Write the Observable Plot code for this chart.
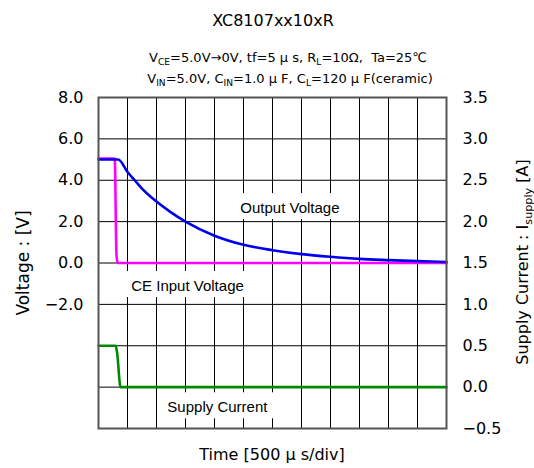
<!DOCTYPE html>
<html>
<head>
<meta charset="utf-8">
<script src="https://cdn.jsdelivr.net/npm/d3@7"></script>
<script src="https://cdn.jsdelivr.net/npm/@observablehq/plot@0.6"></script>
<style>
  html, body { margin: 0; padding: 0; background: #fff; }
</style>
</head>
<body>
<div id="chart"></div>
<script>
// ---- data (time in divisions of 500 µs) ----
const outTime = [0, 0.68, 1.0, 1.25, 1.5, 2, 2.5, 3, 4, 5, 6, 7, 8, 9, 10, 11, 12];
const outVolt = [5.0, 5.0, 4.4, 4.0, 3.6, 2.97, 2.45, 2.0, 1.32, 0.88, 0.62, 0.43, 0.30, 0.20, 0.14, 0.09, 0.05];

const ceTime = [0, 0.56, 0.62, 0.66, 12];
const ceVolt = [5.05, 5.05, 0.4, 0.0, 0.0];

const supTime = [0, 0.59, 0.64, 0.76, 12];
const supAmp = [0.5, 0.5, 0.42, 0.0, 0.0];

const leftTicks = [8, 6, 4, 2, 0, -2];
const rightTicks = [3.5, 3.0, 2.5, 2.0, 1.5, 1.0, 0.5, 0.0, -0.5];

const labelText = ["Output Voltage", "CE Input Voltage", "Supply Current"];
const labelX = [6.6, 3.07, 4.1];
const labelY = [2.67, -1.1, -6.96];

const titleText = "XC8107xx10xR";
const subLine1 = [["V", false], ["CE", true], ["=5.0V→0V, tf=5 μ s, R", false], ["L", true], ["=10Ω,  Ta=25℃", false]];
const subLine2 = [["V", false], ["IN", true], ["=5.0V, C", false], ["IN", true], ["=1.0 μ F, C", false], ["L", true], ["=120 μ F(ceramic)", false]];
const xLabel = "Time [500 μ s/div]";
const yLabelLeft = "Voltage : [V]";
const yLabelRight = [["Supply Current : I", false], ["supply", true], [" [A]", false]];

// current (A) mapped onto voltage axis: right axis -0.5..3.5 ↔ left -8..8
const a2v = a => (a - 1.5) * 4;
const v2a = v => v / 4 + 1.5;

const outData = outTime.map((t, i) => ({t, v: outVolt[i]}));
const ceData = ceTime.map((t, i) => ({t, v: ceVolt[i]}));
const supData = supTime.map((t, i) => ({t, v: a2v(supAmp[i])}));
const labels = labelText.map((s, i) => ({s, x: labelX[i], y: labelY[i]}));

const fmt = d3.format(".1f");
const FONT = "'DejaVu Sans', Verdana, sans-serif";
const LFONT = "'Liberation Sans', Arial, sans-serif";

const svg = Plot.plot({
  width: 534,
  height: 468,
  marginTop: 97,
  marginBottom: 40,
  marginLeft: 98,
  marginRight: 88,
  style: {fontFamily: FONT, fontSize: "16px", background: "#fff", overflow: "visible"},
  x: {domain: [0, 12], axis: null},
  y: {domain: [-8, 8]},
  marks: [
    Plot.gridX(d3.range(0, 13), {stroke: "#000", strokeOpacity: 1, strokeWidth: 1}),
    Plot.gridY(d3.range(-8, 9, 2), {stroke: "#000", strokeOpacity: 1, strokeWidth: 1}),
    Plot.text(labels, {x: "x", y: "y", text: "s", fontSize: 15, fontFamily: LFONT, fill: "#000", className: "lbl"}),
    Plot.line(ceData, {x: "t", y: "v", stroke: "#ff00ff", strokeWidth: 2.6, curve: "monotone-x"}),
    Plot.line(supData, {x: "t", y: "v", stroke: "#008a00", strokeWidth: 2.6, curve: "monotone-x"}),
    Plot.line(outData, {x: "t", y: "v", stroke: "#0000ee", strokeWidth: 2.6, curve: "monotone-x"}),
    Plot.frame({stroke: "#555", strokeWidth: 2}),
    Plot.axisY(leftTicks, {anchor: "left", tickSize: 0, tickPadding: 15, tickFormat: fmt,
      fontSize: 16, label: null}),
    Plot.axisY(rightTicks.map(a2v), {anchor: "right", tickSize: 0, tickPadding: 16,
      tickFormat: v => fmt(Math.round(v2a(v) * 10) / 10), fontSize: 16, label: null})
  ]
});

document.getElementById("chart").appendChild(svg);

const s = d3.select(svg);

// white boxes behind the in-plot labels (sized from the rendered text)
const lblGroup = svg.querySelector("g.lbl") || svg.querySelector(".lbl");
if (lblGroup) {
  const bg = document.createElementNS("http://www.w3.org/2000/svg", "g");
  lblGroup.parentNode.insertBefore(bg, lblGroup);
  lblGroup.querySelectorAll("text").forEach(t => {
    const b = t.getBBox();
    const tr = t.getAttribute("transform") || "";
    d3.select(bg).append("rect")
      .attr("x", b.x - 6).attr("y", b.y - 5)
      .attr("width", b.width + 12).attr("height", b.height + 9)
      .attr("transform", tr)
      .attr("fill", "#fff");
  });
}

function rich(parts, x, y, size, anchor, rotate) {
  const t = s.append("text")
    .attr("x", x).attr("y", y)
    .attr("text-anchor", anchor)
    .attr("font-family", FONT)
    .attr("font-size", size)
    .attr("fill", "#000");
  if (rotate) t.attr("transform", `rotate(${rotate},${x},${y})`);
  let sub = false;
  parts.forEach(([str, isSub]) => {
    const sp = t.append("tspan").text(str);
    if (isSub && !sub) { sp.attr("dy", size * 0.22).attr("font-size", size * 0.7); sub = true; }
    else if (isSub) { sp.attr("font-size", size * 0.7); }
    else if (!isSub && sub) { sp.attr("dy", -size * 0.22); sub = false; }
  });
  return t;
}

rich([[titleText, false]], 273, 26, 16, "middle");
rich(subLine1, 288, 62, 13, "middle");
rich(subLine2, 290, 83, 13, "middle");
rich([[xLabel, false]], 272, 460, 16, "middle");
rich([[yLabelLeft, false]], 29, 263, 17, "middle", -90);
rich(yLabelRight, 528, 262, 16, "middle", -90);
</script>
</body>
</html>
